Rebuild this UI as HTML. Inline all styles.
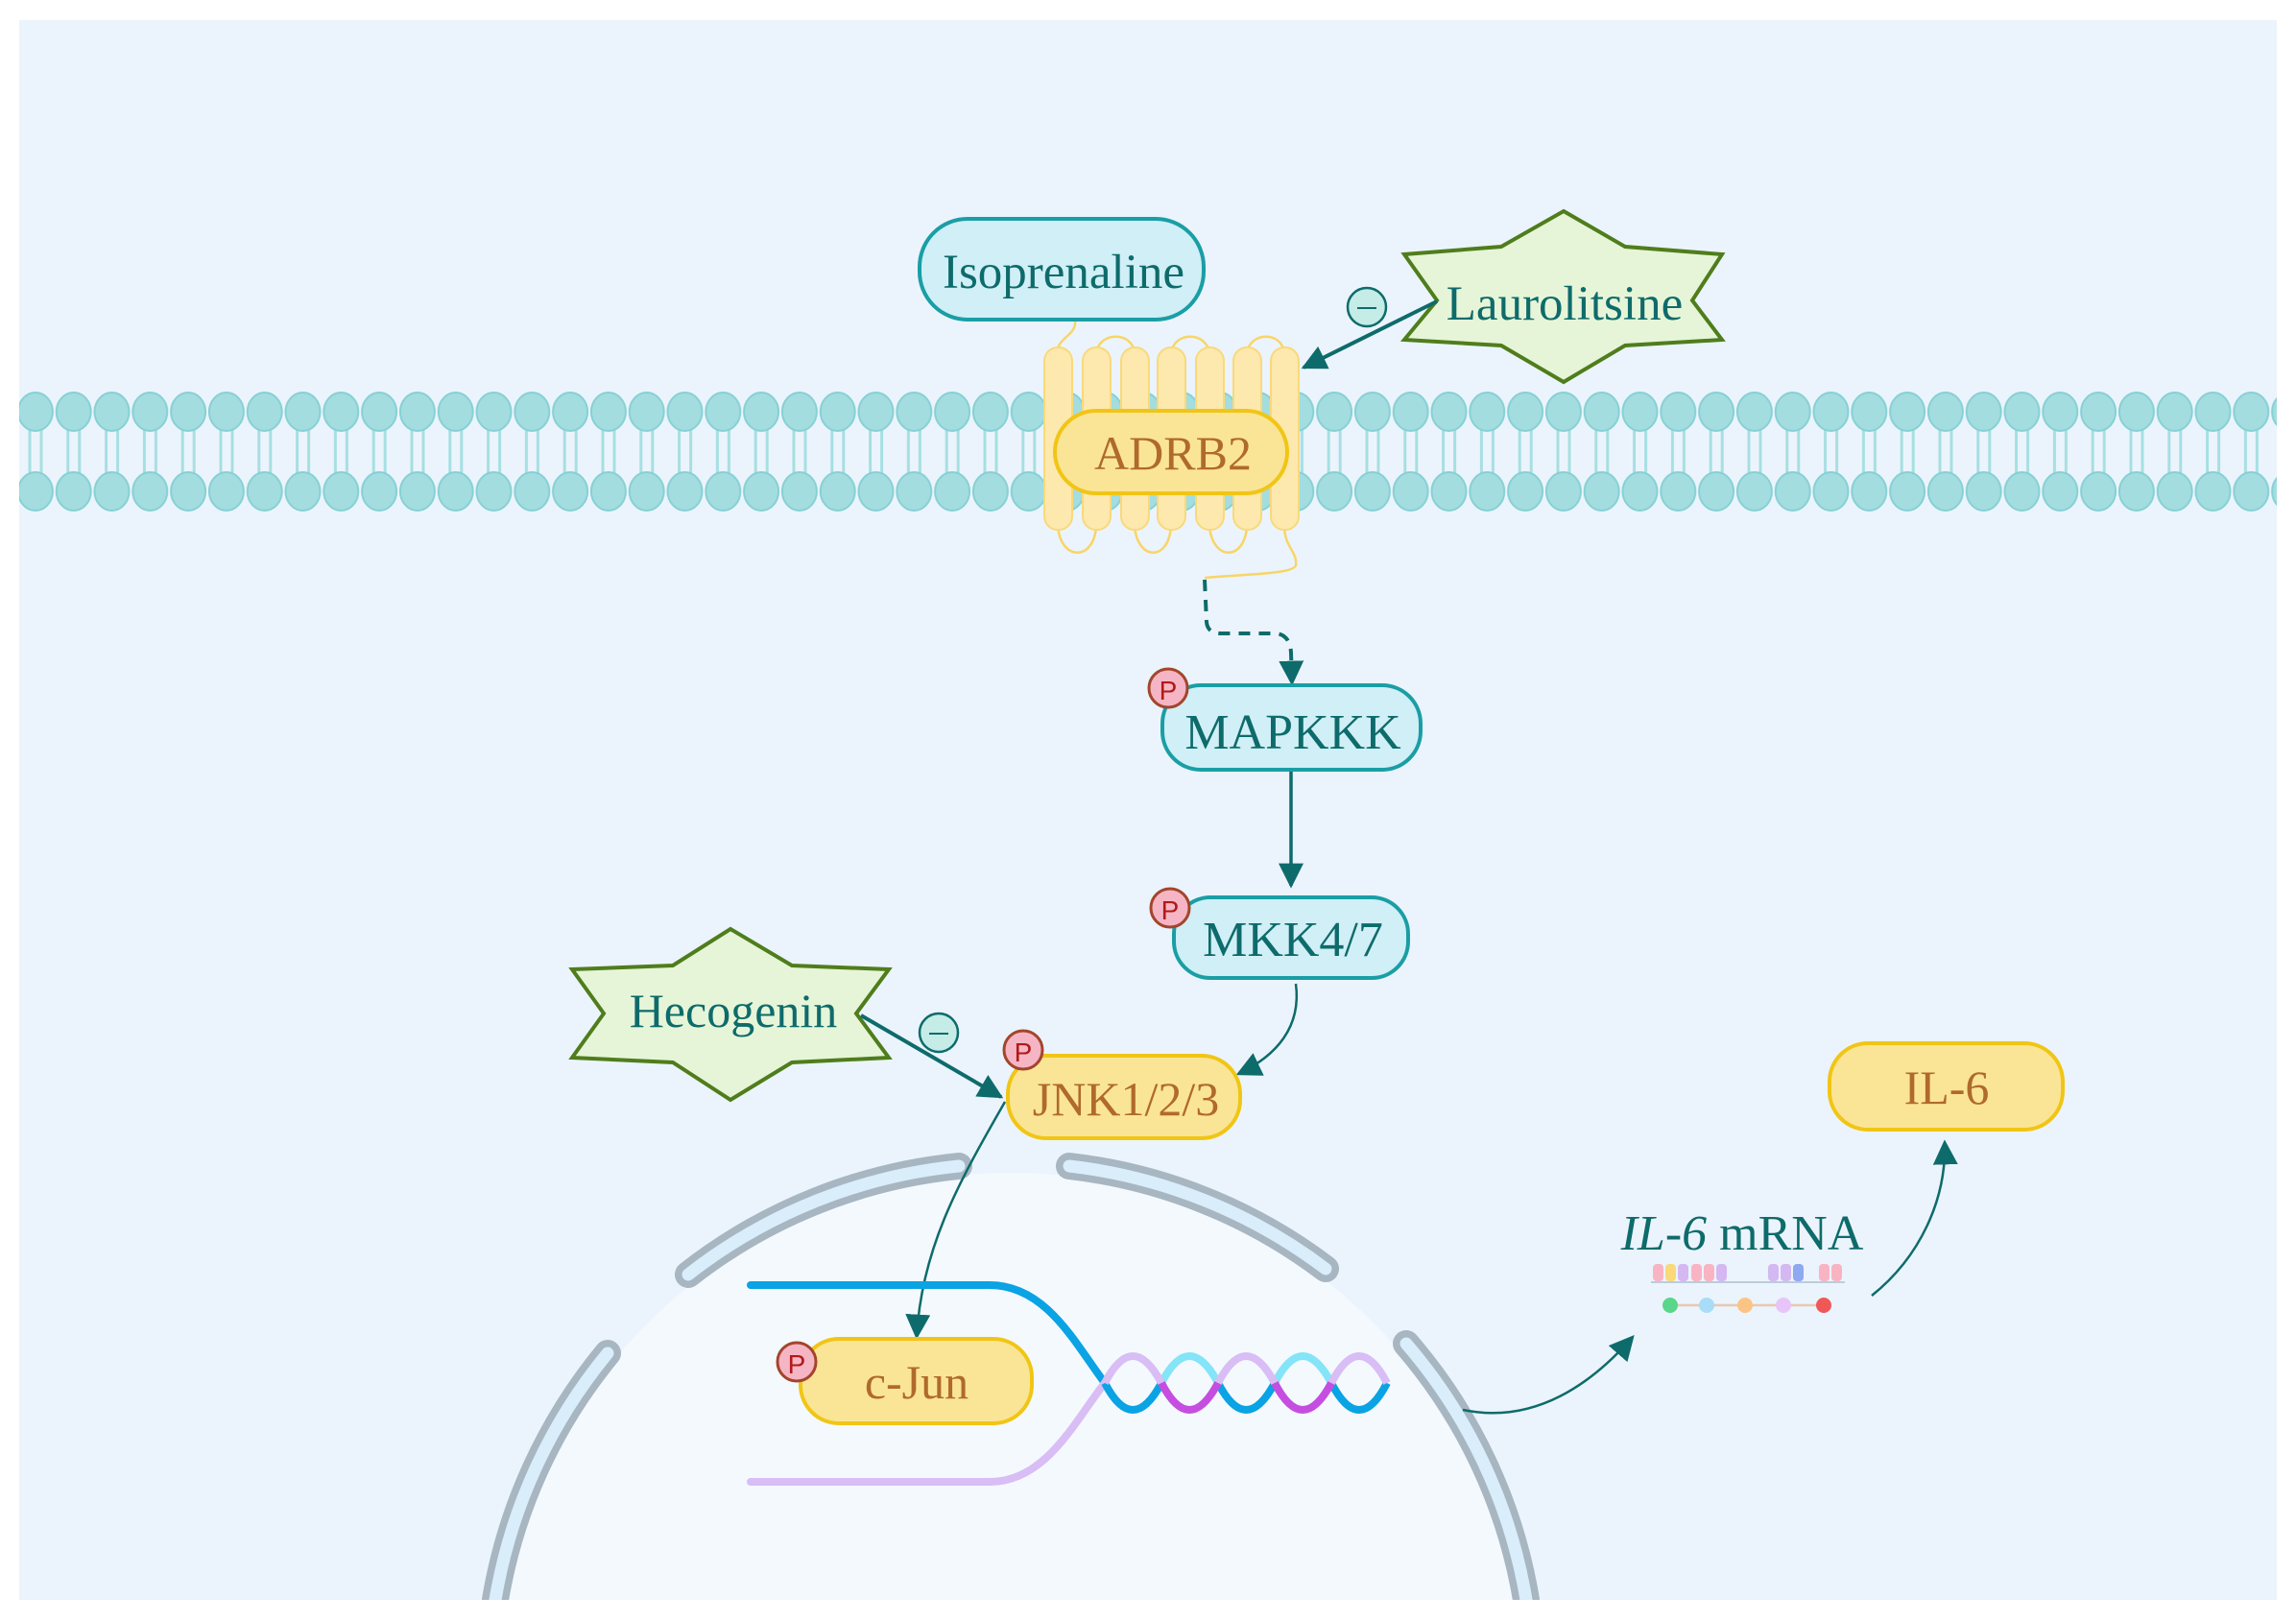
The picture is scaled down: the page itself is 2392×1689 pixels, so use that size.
<!DOCTYPE html>
<html><head><meta charset="utf-8"><style>html,body{margin:0;padding:0;background:#fff;width:2392px;height:1689px;overflow:hidden}svg{display:block}</style></head><body>
<svg width="2392" height="1689" viewBox="0 0 2392 1689" xmlns="http://www.w3.org/2000/svg" font-family="'Liberation Serif', serif">
<defs>
<pattern id="mem" patternUnits="userSpaceOnUse" x="17" y="405" width="39.8" height="130">
<line x1="14" y1="38" x2="14" y2="94" stroke="#a6dfe2" stroke-width="3"/>
<line x1="26" y1="38" x2="26" y2="94" stroke="#a6dfe2" stroke-width="3"/>
<ellipse cx="19.9" cy="24" rx="18" ry="20" fill="#a3dde0" stroke="#86d0d5" stroke-width="2"/>
<ellipse cx="19.9" cy="107" rx="18" ry="20" fill="#a3dde0" stroke="#86d0d5" stroke-width="2"/>
</pattern>
<marker id="ah2" viewBox="0 0 10 10" refX="9" refY="5" markerWidth="26" markerHeight="26" orient="auto" markerUnits="userSpaceOnUse"><path d="M0,0 L10,5 L0,10 z" fill="#0e6b6b"/></marker>
<clipPath id="pc"><rect x="20" y="21" width="2352" height="1646"/></clipPath>
</defs>
<rect x="20" y="21" width="2352" height="1646" fill="#ebf4fc"/>
<g clip-path="url(#pc)">
<circle cx="1053" cy="1757" r="535" fill="#f4f9fe"/>
<g fill="none" stroke-linecap="round">
<path d="M717,1328 A545,545 0 0 1 999,1215" stroke="#a7b6c1" stroke-width="28"/>
<path d="M717,1328 A545,545 0 0 1 999,1215" stroke="#d9edfb" stroke-width="13"/>
<path d="M1114,1215 A545,545 0 0 1 1381,1322" stroke="#a7b6c1" stroke-width="28"/>
<path d="M1114,1215 A545,545 0 0 1 1381,1322" stroke="#d9edfb" stroke-width="13"/>
<path d="M633,1410 A545,545 0 0 0 516,1667" stroke="#a7b6c1" stroke-width="28"/>
<path d="M633,1410 A545,545 0 0 0 516,1667" stroke="#d9edfb" stroke-width="13"/>
<path d="M1465,1400 A545,545 0 0 1 1590,1667" stroke="#a7b6c1" stroke-width="28"/>
<path d="M1465,1400 A545,545 0 0 1 1590,1667" stroke="#d9edfb" stroke-width="13"/>
</g>
<rect x="17" y="405" width="2357" height="130" fill="url(#mem)"/>
</g>
<g fill="none" stroke="#f8d567" stroke-width="2.5">
<path d="M1120,334 C1122,350 1100,352 1102,368"/>
<path d="M1142,368 C1145,345 1180,345 1182,368"/>
<path d="M1220,368 C1223,345 1257,345 1260,368"/>
<path d="M1299,368 C1302,345 1336,345 1338,368"/>
<path d="M1102,548 C1105,585 1140,585 1142,548"/>
<path d="M1182,548 C1185,585 1218,585 1220,548"/>
<path d="M1260,548 C1263,585 1297,585 1299,548"/>
<path d="M1338,548 C1338,570 1352,575 1350,589 C1348,598 1300,598 1255,602"/>
</g>
<g fill="#fde8ae" stroke="#f9d97a" stroke-width="2">
<rect x="1088" y="362" width="29" height="190" rx="14"/>
<rect x="1128" y="362" width="29" height="190" rx="14"/>
<rect x="1168" y="362" width="29" height="190" rx="14"/>
<rect x="1206" y="362" width="29" height="190" rx="14"/>
<rect x="1246" y="362" width="29" height="190" rx="14"/>
<rect x="1285" y="362" width="29" height="190" rx="14"/>
<rect x="1324" y="362" width="29" height="190" rx="14"/>
</g>
<rect x="1099" y="428" width="242" height="86" rx="43" fill="#fae596" stroke="#f1c515" stroke-width="4"/>
<text x="1222" y="489" font-size="50" fill="#b06a2a" text-anchor="middle">ADRB2</text>
<rect x="958" y="228" width="296" height="105" rx="50" fill="#d0eff6" stroke="#1a9ea5" stroke-width="4"/>
<text x="1108" y="300" font-size="51" fill="#0e6b6b" text-anchor="middle">Isoprenaline</text>
<polygon points="1629,220 1693,257 1794,265 1763,313 1794,354 1693,360 1629,398 1564,360 1463,354 1497,313 1463,265 1564,257" fill="#e6f5d8" stroke="#4f7d1c" stroke-width="4"/>
<text x="1630" y="333" font-size="51" fill="#0e6b6b" text-anchor="middle">Laurolitsine</text>
<line x1="1497" y1="314" x2="1358" y2="383" stroke="#0e6b6b" stroke-width="4" marker-end="url(#ah2)"/>
<circle cx="1424" cy="320" r="20" fill="#c5ece7" stroke="#0e6b6b" stroke-width="2.5"/>
<line x1="1414" y1="321" x2="1434" y2="321" stroke="#0e6b6b" stroke-width="2"/>
<path d="M1255,604 L1257,648 Q1258,660 1272,660 L1330,660 Q1344,662 1345,680 L1346,712" fill="none" stroke="#0e6b6b" stroke-width="4" stroke-dasharray="12,9" marker-end="url(#ah2)"/>
<rect x="1211" y="714" width="269" height="88" rx="40" fill="#d0eff6" stroke="#1a9ea5" stroke-width="4"/>
<text x="1347" y="780" font-size="52" fill="#0e6b6b" text-anchor="middle">MAPKKK</text>
<circle cx="1217" cy="717" r="20" fill="#f6b5c4" stroke="#a3452c" stroke-width="3"/>
<text x="1217" y="729" font-size="28" font-family="'Liberation Sans',sans-serif" fill="#b01a1a" text-anchor="middle">P</text>
<line x1="1345" y1="804" x2="1345" y2="923" stroke="#0e6b6b" stroke-width="3.5" marker-end="url(#ah2)"/>
<rect x="1223" y="935" width="244" height="84" rx="38" fill="#d0eff6" stroke="#1a9ea5" stroke-width="4"/>
<text x="1347" y="996" font-size="52" fill="#0e6b6b" text-anchor="middle">MKK4/7</text>
<circle cx="1219" cy="946" r="20" fill="#f6b5c4" stroke="#a3452c" stroke-width="3"/>
<text x="1219" y="958" font-size="28" font-family="'Liberation Sans',sans-serif" fill="#b01a1a" text-anchor="middle">P</text>
<path d="M1350,1025 C1356,1070 1330,1100 1290,1119" fill="none" stroke="#0e6b6b" stroke-width="2.5" marker-end="url(#ah2)"/>
<polygon points="761,968 825,1006 926,1010 892,1056 926,1102 825,1107 761,1146 701,1107 596,1102 629,1056 596,1010 701,1006" fill="#e6f5d8" stroke="#4f7d1c" stroke-width="4"/>
<text x="764" y="1070" font-size="50" fill="#0e6b6b" text-anchor="middle">Hecogenin</text>
<line x1="897" y1="1058" x2="1043" y2="1143" stroke="#0e6b6b" stroke-width="4" marker-end="url(#ah2)"/>
<circle cx="978" cy="1076" r="20" fill="#c5ece7" stroke="#0e6b6b" stroke-width="2.5"/>
<line x1="968" y1="1077" x2="988" y2="1077" stroke="#0e6b6b" stroke-width="2"/>
<rect x="1050" y="1100" width="242" height="86" rx="40" fill="#fae596" stroke="#f1c515" stroke-width="4"/>
<text x="1173" y="1162" font-size="50" fill="#b06a2a" text-anchor="middle">JNK1/2/3</text>
<circle cx="1066" cy="1094" r="20" fill="#f6b5c4" stroke="#a3452c" stroke-width="3"/>
<text x="1066" y="1106" font-size="28" font-family="'Liberation Sans',sans-serif" fill="#b01a1a" text-anchor="middle">P</text>
<path d="M1047,1148 C1000,1230 960,1300 955,1393" fill="none" stroke="#0e6b6b" stroke-width="2.5" marker-end="url(#ah2)"/>
<path d="M782,1339 L1031,1339 C1090,1339 1120,1400 1151,1441" fill="none" stroke="#0aa3e3" stroke-width="8" stroke-linecap="round"/>
<path d="M782,1544 L1031,1544 C1090,1544 1120,1480 1151,1441" fill="none" stroke="#d9bdf5" stroke-width="8" stroke-linecap="round"/>
<g fill="none" stroke-width="8">
<path d="M1151,1441 Q1180,1497 1210,1441" stroke="#0aa3e3"/>
<path d="M1210,1441 Q1239,1385 1269,1441" stroke="#84e4f8"/>
<path d="M1269,1441 Q1298,1497 1328,1441" stroke="#0aa3e3"/>
<path d="M1328,1441 Q1357,1385 1387,1441" stroke="#84e4f8"/>
<path d="M1387,1441 Q1416,1497 1445,1441" stroke="#0aa3e3"/>
<path d="M1151,1441 Q1180,1385 1210,1441" stroke="#d9bdf5"/>
<path d="M1210,1441 Q1239,1497 1269,1441" stroke="#c54ee0"/>
<path d="M1269,1441 Q1298,1385 1328,1441" stroke="#d9bdf5"/>
<path d="M1328,1441 Q1357,1497 1387,1441" stroke="#c54ee0"/>
<path d="M1387,1441 Q1416,1385 1445,1441" stroke="#d9bdf5"/>
</g>
<rect x="834" y="1395" width="241" height="88" rx="40" fill="#fae596" stroke="#f1c515" stroke-width="4"/>
<text x="955" y="1457" font-size="50" fill="#b06a2a" text-anchor="middle">c-Jun</text>
<circle cx="830" cy="1419" r="20" fill="#f6b5c4" stroke="#a3452c" stroke-width="3"/>
<text x="830" y="1431" font-size="28" font-family="'Liberation Sans',sans-serif" fill="#b01a1a" text-anchor="middle">P</text>
<path d="M1524,1469 C1600,1485 1660,1440 1701,1393" fill="none" stroke="#0e6b6b" stroke-width="2.5" marker-end="url(#ah2)"/>
<text x="1815" y="1302" font-size="52" fill="#0e6b6b" text-anchor="middle"><tspan font-style="italic">IL-6</tspan> mRNA</text>
<g>
<rect x="1722" y="1317" width="11" height="18" rx="4" fill="#f9b4c4"/>
<rect x="1735" y="1317" width="11" height="18" rx="4" fill="#fbd97a"/>
<rect x="1748" y="1317" width="11" height="18" rx="4" fill="#d4b8f2"/>
<rect x="1762" y="1317" width="11" height="18" rx="4" fill="#f9b4c4"/>
<rect x="1775" y="1317" width="11" height="18" rx="4" fill="#f9b4c4"/>
<rect x="1788" y="1317" width="11" height="18" rx="4" fill="#d4b8f2"/>
<rect x="1842" y="1317" width="11" height="18" rx="4" fill="#d4b8f2"/>
<rect x="1855" y="1317" width="11" height="18" rx="4" fill="#d4b8f2"/>
<rect x="1868" y="1317" width="11" height="18" rx="4" fill="#8ea8f2"/>
<rect x="1895" y="1317" width="11" height="18" rx="4" fill="#f9b4c4"/>
<rect x="1908" y="1317" width="11" height="18" rx="4" fill="#f9b4c4"/>
<line x1="1720" y1="1336" x2="1922" y2="1336" stroke="#bcd" stroke-width="2"/>
<line x1="1740" y1="1360" x2="1900" y2="1360" stroke="#e8c8b0" stroke-width="2.5"/>
<circle cx="1740" cy="1360" r="8" fill="#5ad68a"/>
<circle cx="1778" cy="1360" r="8" fill="#a8dcf8"/>
<circle cx="1818" cy="1360" r="8" fill="#fcc484"/>
<circle cx="1858" cy="1360" r="8" fill="#e8c4f8"/>
<circle cx="1900" cy="1360" r="8" fill="#f05858"/>
</g>
<path d="M1950,1350 C2000,1310 2028,1250 2026,1190" fill="none" stroke="#0e6b6b" stroke-width="2.5" marker-end="url(#ah2)"/>
<rect x="1906" y="1087" width="243" height="90" rx="40" fill="#fae596" stroke="#f1c515" stroke-width="4"/>
<text x="2028" y="1150" font-size="50" fill="#b06a2a" text-anchor="middle">IL-6</text>
</svg>
</body></html>
